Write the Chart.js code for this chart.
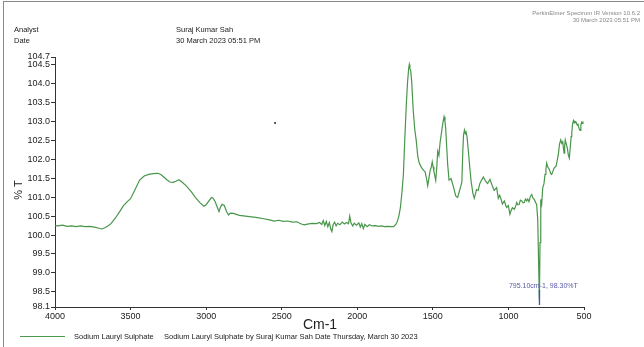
<!DOCTYPE html>
<html><head><meta charset="utf-8">
<script src="https://cdn.jsdelivr.net/npm/chart.js@4.4.0/dist/chart.umd.min.js"></script>
<style>
html,body{margin:0;padding:0;background:#fff;}
#wrap{position:relative;width:644px;height:347px;overflow:hidden;font-family:Arial,"Liberation Sans",sans-serif;background:#fff;}
canvas{position:absolute;left:0;top:0;}
.t{position:absolute;white-space:nowrap;color:#222;line-height:1;}
</style></head><body>
<div id="wrap">
<canvas id="c" width="644" height="347"></canvas>
<div style="position:absolute;left:3px;top:1px;width:641px;height:1px;background:#8a8a8a"></div>
<div style="position:absolute;left:3px;top:1px;width:1px;height:346px;background:#8a8a8a"></div>
<div class="t" style="right:4px;top:10px;font-size:6px;color:#888;text-align:right">PerkinElmer Spectrum IR Version 10.6.2</div>
<div class="t" style="right:4px;top:17px;font-size:6px;color:#888;text-align:right">30 March 2023 05:51 PM</div>
<div class="t" style="left:14px;top:26px;font-size:7.5px">Analyst</div>
<div class="t" style="left:14px;top:37px;font-size:7.5px">Date</div>
<div class="t" style="left:176px;top:26px;font-size:7.5px">Suraj Kumar Sah</div>
<div class="t" style="left:176px;top:37px;font-size:7.5px">30 March 2023 05:51 PM</div>
<div class="t" style="left:18px;top:190px;font-size:11px;transform:translate(-50%,-50%) rotate(-90deg)">% T</div>
<div class="t" style="left:320px;top:324px;font-size:14px;transform:translate(-50%,-50%)">Cm-1</div>
<div style="position:absolute;left:20px;top:336px;width:45px;height:1px;background:#4c9a4c"></div>
<div class="t" style="left:74px;top:333px;font-size:7.5px">Sodium Lauryl Sulphate</div>
<div class="t" style="left:164px;top:333px;font-size:7.5px">Sodium Lauryl Sulphate by Suraj Kumar Sah Date Thursday, March 30 2023</div>
</div>
<script>
// ---- data ----
const xTicks = [4000, 3500, 3000, 2500, 2000, 1500, 1000, 500];
const yTicks = [98.1, 98.5, 99.0, 99.5, 100.0, 100.5, 101.0, 101.5, 102.0, 102.5, 103.0, 103.5, 104.0, 104.5, 104.7];
const wavenumbers = [
4000,3980,3950,3920,3890,3860,3830,3800,3770,3740,3710,3690,3670,3650,3630,3600,3570,3548,3520,3500,
3470,3440,3410,3380,3350,3320,3300,3280,3260,3240,3220,3200,3180,3160,3130,3100,3070,3040,3015,3000,
2985,2965,2955,2940,2925,2915,2905,2895,2880,2865,2852,2840,2820,2780,2740,2700,2660,2620,2580,2550,
2520,2490,2460,2430,2400,2370,2350,2330,2300,2270,2250,2235,2225,2215,2205,2195,2185,2175,2168,2160,
2150,2140,2130,2115,2100,2085,2070,2058,2050,2042,2030,2020,2005,1990,1980,1970,1960,1950,1935,1920,
1900,1880,1860,1840,1820,1800,1780,1760,1745,1735,1725,1715,1705,1695,1685,1675,1668,1660,1656,1652,
1647,1640,1630,1620,1610,1600,1590,1575,1560,1552,1540,1534,1526,1519,1510,1504,1498,1493,1481,1474,
1468,1460,1452,1442,1432,1426,1420,1415,1408,1402,1393,1380,1365,1349,1336,1325,1315,1308,1302,1297,
1291,1285,1280,1274,1265,1256,1247,1235,1226,1211,1200,1190,1182,1166,1151,1138,1122,1107,1094,1078,
1067,1058,1049,1040,1027,1018,1012,1001,990,982,974,961,953,945,938,930,921,912,903,895,
887,879,872,864,855,846,838,829,820,813,806,800,795.1,791,786,780,773,765,758,752,
747,740,729,720,714,706,698,685,678,670,662,654,647,641,636,632,628,624,617,610,
603,597,590,585,581,576,570,565,560,552,545,540,537,531,526,521,515,510,507
];
const transmittance = [
100.25,100.24,100.26,100.23,100.24,100.22,100.24,100.22,100.23,100.21,100.18,100.16,100.19,100.24,100.30,100.45,100.63,100.77,100.89,100.96,
101.20,101.45,101.56,101.60,101.62,101.63,101.60,101.53,101.46,101.40,101.39,101.42,101.46,101.40,101.29,101.15,100.99,100.85,100.76,100.80,
100.88,100.99,100.98,100.88,100.72,100.62,100.74,100.81,100.78,100.62,100.53,100.58,100.57,100.52,100.50,100.48,100.46,100.43,100.40,100.37,
100.39,100.36,100.37,100.34,100.35,100.29,100.27,100.29,100.31,100.30,100.33,100.28,100.38,100.25,100.36,100.22,100.33,100.15,100.09,100.27,
100.34,100.24,100.31,100.27,100.34,100.29,100.33,100.30,100.50,100.32,100.24,100.31,100.26,100.32,100.21,100.30,100.17,100.28,100.22,100.27,
100.24,100.25,100.23,100.24,100.22,100.23,100.22,100.22,100.28,100.36,100.50,100.72,101.10,101.60,102.60,103.50,104.00,104.40,104.50,104.40,
104.35,104.05,103.30,102.80,102.50,102.08,101.90,101.78,101.70,101.68,101.45,101.30,101.50,101.68,101.80,101.93,101.80,101.68,101.44,101.80,
102.21,102.10,102.45,102.73,103.00,103.12,103.00,102.82,102.30,101.86,101.45,101.49,101.29,101.03,100.99,101.15,101.29,101.40,102.20,102.64,
102.77,102.68,102.72,102.60,102.21,101.80,101.42,101.10,100.97,101.20,101.18,101.35,101.42,101.53,101.42,101.36,101.47,101.30,101.18,101.25,
100.97,101.05,100.95,100.82,100.90,100.78,100.73,100.78,100.55,100.65,100.72,100.68,100.75,100.86,100.80,100.80,100.92,100.90,100.85,100.86,
100.95,100.90,100.95,100.88,101.02,101.07,100.98,100.94,100.86,100.80,100.40,99.20,98.30,99.80,100.94,100.82,101.25,101.35,101.60,101.72,
101.90,101.80,101.73,101.62,101.60,101.68,101.77,101.82,101.95,102.12,102.40,102.51,102.42,102.46,102.30,102.16,102.35,102.51,102.40,102.29,
102.10,102.03,102.35,102.60,102.69,102.92,103.02,102.96,103.00,102.98,102.90,102.94,102.86,102.80,102.76,102.90,102.98,102.95,103.00
];
const peakWn = 795.10;
const peakPct = 98.30;
const peakLabel = '795.10cm-1, 98.30%T';
const markerWn = [795.6, 794.6];
const markerPct = [98.55, 98.15];
const strayWn = [2544];
const strayPct = [102.96];

// ---- chart ----
const spectrum = wavenumbers.map((w, i) => ({x: w, y: transmittance[i]}));
const marker = markerWn.map((w, i) => ({x: w, y: markerPct[i]}));
const stray = strayWn.map((w, i) => ({x: w, y: strayPct[i]}));

const annot = {
  id: 'annot',
  afterDatasetsDraw(chart) {
    const {ctx, scales: {x, y}} = chart;
    const px = x.getPixelForValue(peakWn), py = y.getPixelForValue(peakPct);
    ctx.save();
    ctx.font = '7px Arial, "Liberation Sans", sans-serif';
    ctx.fillStyle = '#5a5aa8';
    ctx.textAlign = 'center';
    ctx.textBaseline = 'middle';
    ctx.fillText(peakLabel, px + 4, py - 13);
    ctx.restore();
  }
};

new Chart(document.getElementById('c'), {
  type: 'scatter',
  data: {
    datasets: [
      {data: marker, showLine: true, borderColor: '#3b55a0', borderWidth: 1.3, pointRadius: 0},
      {data: stray, showLine: false, pointRadius: 1, backgroundColor: '#222', borderWidth: 0},
      {data: spectrum, showLine: true, borderColor: '#48964a', borderWidth: 1.2, pointRadius: 0, tension: 0}
    ]
  },
  options: {
    responsive: false,
    animation: false,
    devicePixelRatio: 1,
    layout: {padding: {left: 0, right: 60, top: 57, bottom: 20}},
    plugins: {legend: {display: false}, tooltip: {enabled: false}},
    scales: {
      x: {
        type: 'linear', reverse: true, min: 500, max: 4000,
        afterBuildTicks: s => { s.ticks = xTicks.map(v => ({value: v})); },
        afterFit: s => { s.height = 20; },
        grid: {drawOnChartArea: false, drawTicks: true, tickLength: 3, color: '#333'},
        border: {display: true, color: '#333', width: 1},
        ticks: {autoSkip: false, maxRotation: 0, padding: 1, color: '#222',
          font: {family: 'Arial, "Liberation Sans", sans-serif', size: 9},
          callback: v => String(v)}
      },
      y: {
        type: 'linear', min: 98.1, max: 104.7,
        afterBuildTicks: s => { s.ticks = yTicks.map(v => ({value: v})); },
        afterFit: s => { s.width = 55; },
        grid: {drawOnChartArea: false, drawTicks: true, tickLength: 4, color: '#333'},
        border: {display: true, color: '#333', width: 1},
        ticks: {autoSkip: false, padding: 1, color: '#222',
          font: {family: 'Arial, "Liberation Sans", sans-serif', size: 9},
          callback: v => Number(v).toFixed(1)}
      }
    }
  },
  plugins: [annot]
});
</script>
</body></html>
